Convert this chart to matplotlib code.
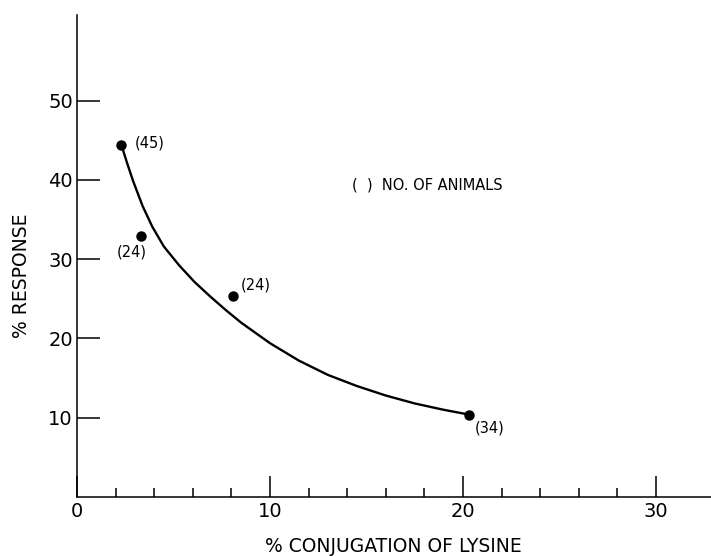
import matplotlib
matplotlib.use("Agg")
import matplotlib.pyplot as plt
from matplotlib.ticker import FixedLocator

# Data
conj_pct = [2.3, 3.3, 8.1, 20.3]
response_pct = [44.4, 32.9, 25.3, 10.4]
n_animals = ["(45)", "(24)", "(24)", "(34)"]

curve_x = [2.3, 2.6, 2.9, 3.4, 3.9, 4.5, 5.3, 6.1, 6.9, 7.7, 8.5, 10, 11.5, 13, 14.5, 16, 17.5, 19, 20.3]
curve_y = [44.4, 42.1, 39.9, 36.7, 34.1, 31.6, 29.2, 27.1, 25.3, 23.6, 22.0, 19.4, 17.2, 15.4, 14.0, 12.8, 11.8, 11.0, 10.4]

x_major = [0, 10, 20, 30]
x_minor = [2, 4, 6, 8, 12, 14, 16, 18, 22, 24, 26, 28]
y_major = [10, 20, 30, 40, 50]

plt.rcParams['font.family'] = ['DejaVu Sans']

fig = plt.figure(figsize=(7.11, 5.56), dpi=100)
ax = fig.add_axes([77/711, 59/556, 1 - 77/711, 482/556])

ax.plot(curve_x, curve_y, color='black', lw=1.7, solid_capstyle='round')
ax.plot(conj_pct, response_pct, 'o', color='black', ms=6.5)

offsets = [((9.5, 1.5), 'left', 'center'),
           ((-6.5, -11.5), 'center', 'center'),
           ((5, 8.5), 'left', 'center'),
           ((4.5, -10), 'left', 'center')]
for x, y, lab, (off, ha, va) in zip(conj_pct, response_pct, n_animals, offsets):
    ax.annotate(lab, (x, y), xytext=off, textcoords='offset points',
                ha=ha, va=va, fontsize=10.5)

ax.text(14.25, 39.3, "(  )  NO. OF ANIMALS", fontsize=10.5, ha='left', va='center')

ax.set_xlim(0, 32.85)
ax.set_ylim(0, 60.8)

for s in ['top', 'right']:
    ax.spines[s].set_visible(False)
for s in ['left', 'bottom']:
    ax.spines[s].set_linewidth(1.1)

ax.xaxis.set_major_locator(FixedLocator(x_major))
ax.xaxis.set_minor_locator(FixedLocator(x_minor))
ax.yaxis.set_major_locator(FixedLocator(y_major))
ax.set_xticklabels([str(v) for v in x_major])
ax.set_yticklabels([str(v) for v in y_major])

ax.tick_params(axis='x', which='major', direction='in', length=15, width=1.1, labelsize=14, pad=3.5)
ax.tick_params(axis='x', which='minor', direction='in', length=6.5, width=1.1)
ax.tick_params(axis='y', which='major', direction='in', length=16.5, width=1.1, labelsize=14, pad=3)

ax.set_xlabel("% CONJUGATION OF LYSINE", fontsize=13.5)
ax.set_ylabel("% RESPONSE", fontsize=13.5)
ax.xaxis.set_label_coords(0.499, -0.102)
ax.xaxis.label.set_va('center')
ax.yaxis.set_label_coords(-0.087, 0.46)
ax.yaxis.label.set_va('center')

fig.savefig("out.png", dpi=100)
